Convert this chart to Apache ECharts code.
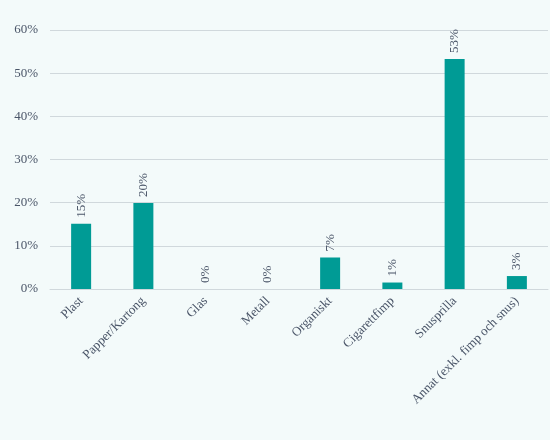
<!DOCTYPE html>
<html>
<head>
<meta charset="utf-8">
<script src="https://cdn.jsdelivr.net/npm/echarts@6/dist/echarts.min.js"></script>
<style>
html, body { margin: 0; padding: 0; background: #f3fafa; }
#chart { width: 550px; height: 440px; }
</style>
</head>
<body>
<div id="chart"></div>
<script>
const categories = ["Plast", "Papper/Kartong", "Glas", "Metall", "Organiskt", "Cigarettfimp", "Snusprilla", "Annat (exkl. fimp och snus)"];
const values = [15.1, 19.9, 0, 0, 7.3, 1.5, 53.3, 3.0];
const labels = ["15%", "20%", "0%", "0%", "7%", "1%", "53%", "3%"];

const font = "Liberation Serif, DejaVu Serif, serif";
const textColor = "#4a5568";

const chart = echarts.init(document.getElementById("chart"), null, { renderer: "canvas" });
chart.setOption({
    backgroundColor: "#f3fafa",
    animation: false,
    grid: { left: 50, right: 2, top: 30, bottom: 151 },
    xAxis: {
        type: "category",
        data: categories,
        axisLine: { lineStyle: { color: "#d0d8dc" } },
        axisTick: { show: false },
        axisLabel: {
            rotate: 45,
            interval: 0,
            color: textColor,
            fontFamily: font,
            fontSize: 13,
            margin: 10
        }
    },
    yAxis: {
        type: "value",
        min: 0,
        max: 60,
        interval: 10,
        axisLine: { show: false },
        axisTick: { show: false },
        splitLine: { lineStyle: { color: "#d0d8dc" } },
        axisLabel: {
            formatter: "{value}%",
            color: textColor,
            fontFamily: font,
            fontSize: 13,
            margin: 12
        }
    },
    series: [{
        type: "bar",
        data: values,
        barWidth: 20,
        itemStyle: { color: "#009b95" },
        label: {
            show: true,
            position: "top",
            rotate: 90,
            align: "left",
            verticalAlign: "middle",
            distance: 6,
            color: textColor,
            fontFamily: font,
            fontSize: 13,
            formatter: p => labels[p.dataIndex]
        }
    }]
});
</script>
</body>
</html>
